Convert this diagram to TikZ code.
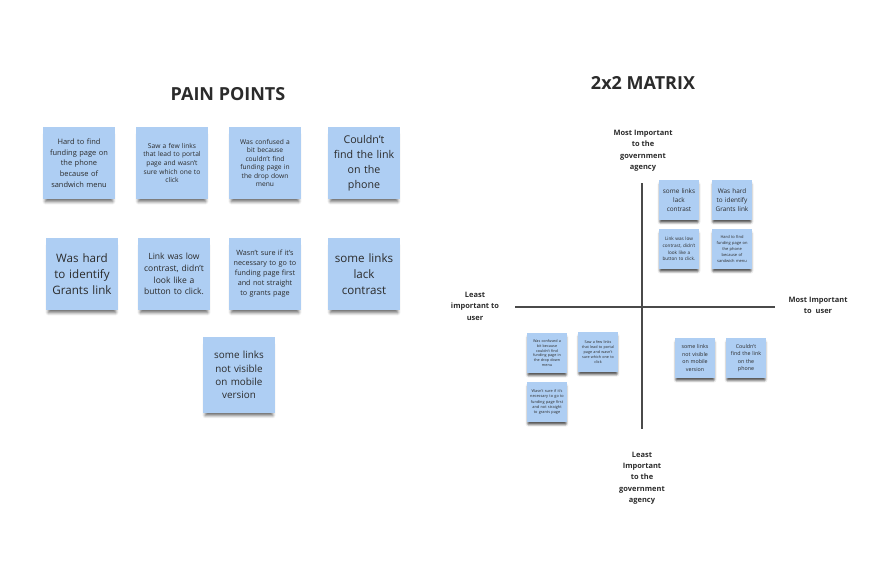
\documentclass[tikz,border=0pt]{standalone}
\usepackage{fontspec}
\setmainfont{Open Sans}
\usetikzlibrary{shadows.blur}

\definecolor{notefill}{HTML}{AECEF3}
\definecolor{axisgrey}{HTML}{4A4A4A}
\definecolor{labelgrey}{HTML}{2B2B2B}

\tikzset{
    sticky/.style={fill=notefill, align=center, text=labelgrey, inner sep=1pt,
        blur shadow={shadow xshift=0pt, shadow yshift=-4pt, shadow scale=0.94,
            shadow opacity=55, shadow blur steps=6}},
    bignote/.style={sticky, minimum width=54pt, minimum height=54pt, text width=50pt},
    smallnote/.style={sticky, minimum width=30pt, minimum height=30pt, text width=28pt,
        blur shadow={shadow xshift=0pt, shadow yshift=-2.5pt, shadow scale=0.94,
            shadow opacity=50, shadow blur steps=4}},
    heading/.style={font=\bfseries\fontsize{13.5}{16}\selectfont, text=labelgrey},
    axislabel/.style={font=\bfseries\fontsize{5.6}{8.6}\selectfont, align=center, text=labelgrey},
    axisline/.style={draw=axisgrey, line width=1.4pt}
}

\begin{document}
\begin{tikzpicture}[x=0.75pt, y=-0.75pt]
    \useasboundingbox (0,0) rectangle (884,560);

    % titles
    \node[heading] (pain) at (228,94) {PAIN POINTS};
    \node[heading] (matrix) at (643,83) {2x2 MATRIX};

    % pain points, first row
    \node[bignote, font=\fontsize{5.6}{8}\selectfont] (p1) at (79,163)
        {Hard to find\\funding page on\\the phone\\because of\\sandwich menu};
    \node[bignote, font=\fontsize{5}{6.5}\selectfont] (p2) at (172,163)
        {Saw a few links\\that lead to portal\\page and wasn't\\sure which one to\\click};
    \node[bignote, font=\fontsize{5}{6.4}\selectfont] (p3) at (265,163)
        {Was confused a\\bit because\\couldn't find\\funding page in\\the drop down\\menu};
    \node[bignote, font=\fontsize{8}{11.25}\selectfont] (p4) at (364,163)
        {Couldn't\\find the link\\on the\\phone};

    % pain points, second row
    \node[bignote, font=\fontsize{8.7}{12}\selectfont] (p5) at (82,274)
        {Was hard\\to identify\\Grants link};
    \node[bignote, font=\fontsize{6.4}{8.9}\selectfont] (p6) at (174,274)
        {Link was low\\contrast, didn't\\look like a\\button to click.};
    \node[bignote, font=\fontsize{5.4}{7.5}\selectfont] (p7) at (265,274)
        {Wasn't sure if it's\\necessary to go to\\funding page first\\and not straight\\to grants page};
    \node[bignote, font=\fontsize{8.7}{12}\selectfont] (p8) at (364,274)
        {some links\\lack\\contrast};

    % pain points, last one
    \node[bignote, minimum height=57pt, font=\fontsize{7.4}{10}\selectfont] (p9) at (239,375)
        {some links\\not visible\\on mobile\\version};

    % axes
    \coordinate (top) at (642,183);
    \coordinate (bottom) at (642,429);
    \coordinate (left) at (515,307);
    \coordinate (right) at (775,307);
    \draw[axisline] (top) -- (bottom);
    \draw[axisline] (left) -- (right);

    \node[axislabel, anchor=south] (mostgov) at (643,176)
        {Most Important\\to the\\government\\agency};
    \node[axislabel, anchor=north] (leastgov) at (642,447)
        {Least\\Important\\to the\\government\\agency};
    \node[axislabel] (leastuser) at (475,306)
        {Least\\important to\\user};
    \node[axislabel] (mostuser) at (818,305.5)
        {Most Important\\to\ \ user};

    % most important to both
    \node[smallnote, font=\fontsize{4.8}{6.6}\selectfont] (m1) at (679,200)
        {some links\\lack\\contrast};
    \node[smallnote, font=\fontsize{4.8}{6.6}\selectfont] (m2) at (732,200)
        {Was hard\\to identify\\Grants link};
    \node[smallnote, font=\fontsize{3.5}{4.9}\selectfont] (m3) at (679,249)
        {Link was low\\contrast, didn't\\look like a\\button to click.};
    \node[smallnote, font=\fontsize{3}{4.4}\selectfont] (m4) at (732,249)
        {Hard to find\\funding page on\\the phone\\because of\\sandwich menu};

    % least important to both
    \node[smallnote, font=\fontsize{2.8}{3.6}\selectfont] (m5) at (547,353)
        {Was confused a\\bit because\\couldn't find\\funding page in\\the drop down\\menu};
    \node[smallnote, font=\fontsize{2.8}{3.7}\selectfont] (m6) at (598,352)
        {Saw a few links\\that lead to portal\\page and wasn't\\sure which one to\\click};
    \node[smallnote, font=\fontsize{2.9}{4.1}\selectfont] (m7) at (547,402)
        {Wasn't sure if it's\\necessary to go to\\funding page first\\and not straight\\to grants page};

    % important to user only
    \node[smallnote, font=\fontsize{4}{5.6}\selectfont] (m8) at (695,358)
        {some links\\not visible\\on mobile\\version};
    \node[smallnote, font=\fontsize{4}{5.6}\selectfont] (m9) at (746,358)
        {Couldn't\\find the link\\on the\\phone};
\end{tikzpicture}
\end{document}
